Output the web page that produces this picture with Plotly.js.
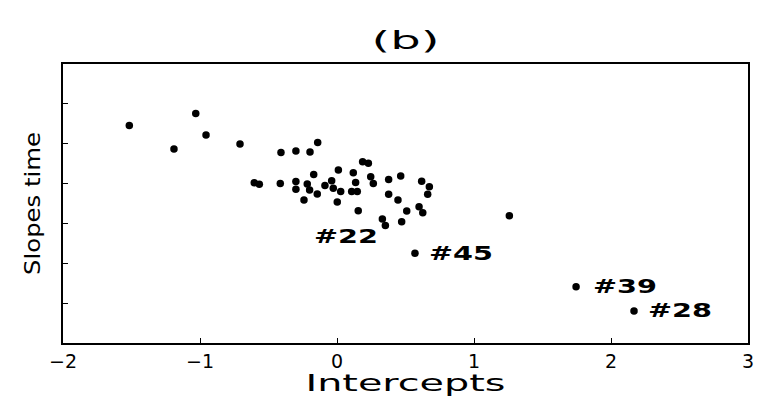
<!DOCTYPE html>
<html>
<head>
<meta charset="utf-8">
<script src="https://cdn.plot.ly/plotly-3.0.1.min.js"></script>
<style>html,body{margin:0;padding:0;background:#fff;}#chart{width:765px;height:399px;}</style>
</head>
<body>
<div id="chart"></div>
<script>
// Intercepts (x) and slopes for time (y, axis units between unlabeled ticks)
const intercepts = [-1.516,-1.031,-0.956,-1.19,-0.708,-0.409,-0.30,-0.197,-0.141,-0.604,-0.567,-0.414,-0.30,-0.30,-0.217,-0.20,-0.144,-0.241,-0.17,-0.088,-0.039,-0.027,0.027,0.01,0.002,0.119,0.136,0.107,0.148,0.155,0.187,0.229,0.246,0.265,0.377,0.465,0.377,0.445,0.618,0.674,0.662,0.509,0.599,0.626,0.331,0.353,0.472,1.258,0.569,1.745,2.168];
const slopes = [5.46,5.76,5.22,4.87,4.99,4.78,4.82,4.79,5.03,4.02,3.98,4.00,4.05,3.86,3.99,3.84,3.74,3.59,4.23,3.95,4.07,3.88,3.80,4.34,3.54,4.27,4.03,3.80,3.80,3.32,4.55,4.51,4.17,4.00,4.10,4.19,3.73,3.59,4.06,3.92,3.73,3.31,3.42,3.27,3.11,2.95,3.04,3.19,2.25,1.41,0.80];

const labelTexts = ["#22", "#45", "#39", "#28"];
const labelX = [-0.185, 0.569, 1.745, 2.168];
const labelY = [2.68, 2.27, 1.43, 0.82];
const labelShift = [0, 12, 15, 12];

const xTicks = [-2, -1, 0, 1, 2, 3];
const yTicks = [1, 2, 3, 4, 5, 6];

const font = "DejaVu Sans, Liberation Sans, sans-serif";

const annotations = labelTexts.map((t, i) => ({
  x: labelX[i], y: labelY[i], xref: 'x', yref: 'y', text: t,
  showarrow: false, xanchor: 'left', yanchor: 'middle', xshift: labelShift[i],
  font: {family: font, size: 19, color: '#000', weight: 'bold'}
}));

const trace = {
  x: intercepts, y: slopes, type: 'scatter', mode: 'markers',
  marker: {color: '#000', size: 7.5, symbol: 'circle'},
  hoverinfo: 'none'
};

const layout = {
  width: 765, height: 399,
  margin: {l: 63, r: 17, t: 64, b: 56},
  paper_bgcolor: '#fff', plot_bgcolor: '#fff',
  showlegend: false,
  title: {text: '(b)', x: 0.53, xanchor: 'center', y: 0.9, yanchor: 'middle',
          font: {family: font, size: 25, color: '#000'}},
  xaxis: {
    range: [-2, 3], tickvals: xTicks, ticktext: xTicks.map(v => v < 0 ? '\u2212' + Math.abs(v) : String(v)),
    ticks: 'inside', ticklen: 5, tickwidth: 1, tickcolor: '#000',
    showline: true, linewidth: 2, linecolor: '#000', mirror: true,
    showgrid: false, zeroline: false,
    tickfont: {family: font, size: 19, color: '#000'},
    title: {text: 'Intercepts', font: {family: font, size: 23, color: '#000'}, standoff: 4}
  },
  yaxis: {
    range: [0, 7], tickvals: yTicks, showticklabels: false,
    ticks: 'inside', ticklen: 5, tickwidth: 1, tickcolor: '#000',
    showline: true, linewidth: 2, linecolor: '#000', mirror: true,
    showgrid: false, zeroline: false,
    title: {text: 'Slopes time', font: {family: font, size: 22, color: '#000'}, standoff: 14}
  },
  annotations: annotations
};

// widen the glyphs to imitate the wide plotting font of the original
function stretch(el, w, fromLeft) {
  if (!el) return;
  if (fromLeft) {
    const bb = el.getBBox();
    el.setAttribute('text-anchor', 'start');
    el.setAttribute('x', bb.x);
  }
  el.setAttribute('textLength', w);
  el.setAttribute('lengthAdjust', 'spacingAndGlyphs');
}

Plotly.newPlot('chart', [trace], layout, {staticPlot: true, displayModeBar: false}).then(gd => {
  stretch(gd.querySelector('.gtitle'), 68, false);
  stretch(gd.querySelector('.xtitle'), 200, false);
  stretch(gd.querySelector('.ytitle'), 143, false);
  gd.querySelectorAll('.annotation-text').forEach(el => stretch(el, 64, true));
});
</script>
</body>
</html>
